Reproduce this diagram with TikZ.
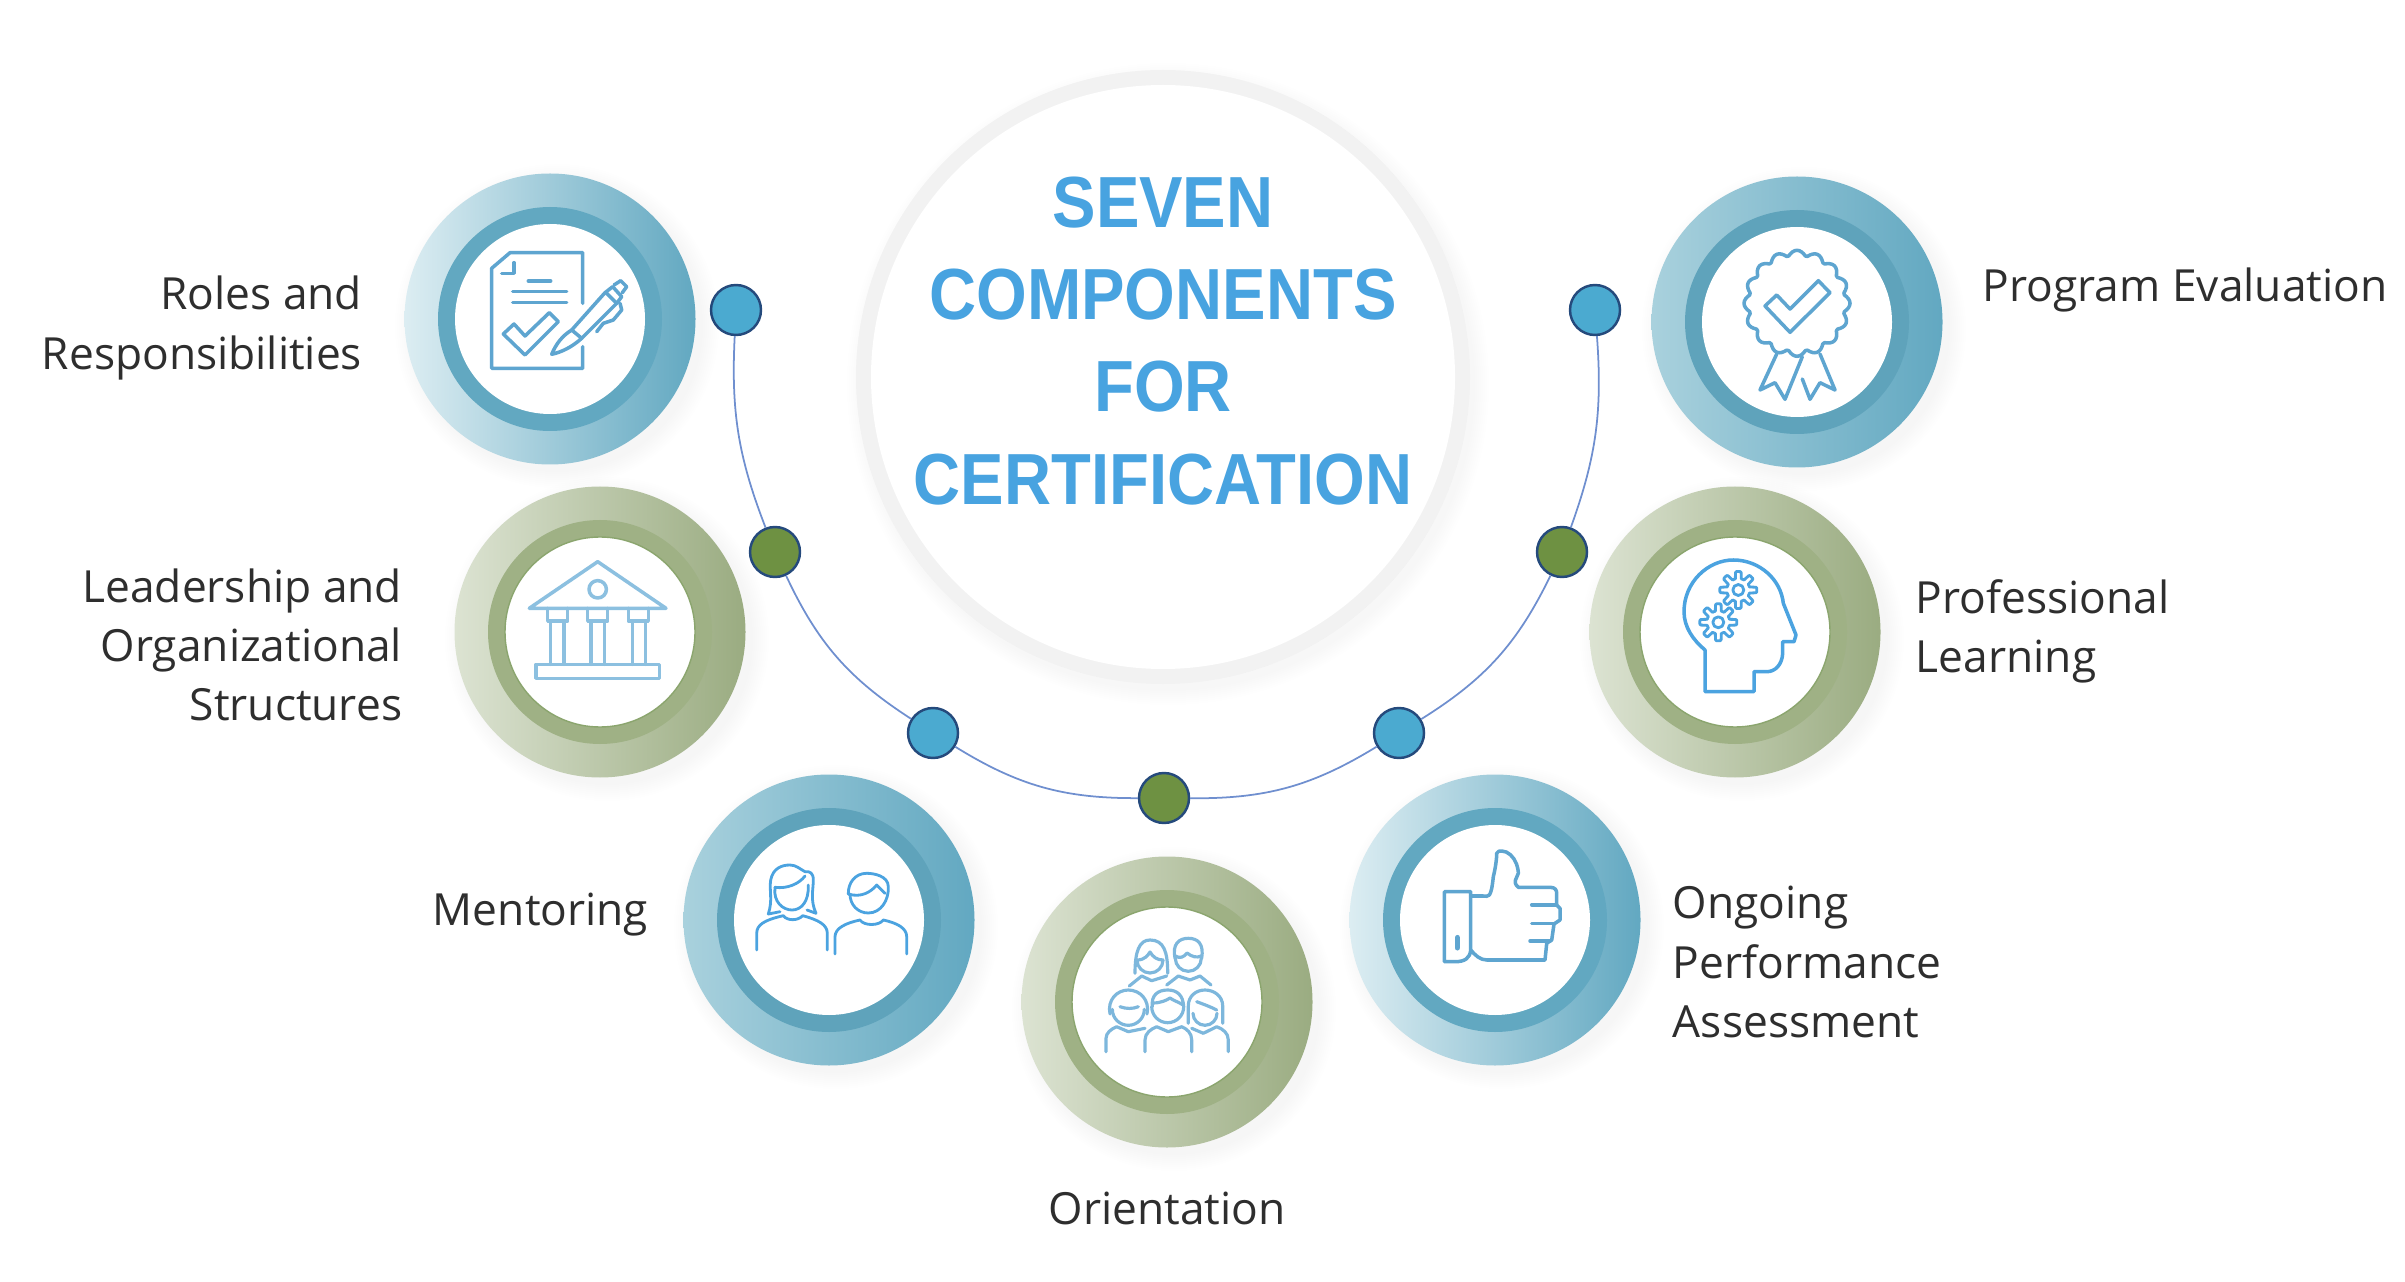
\documentclass[tikz,border=0pt]{standalone}
\usepackage{fontspec}
\setmainfont{Open Sans}
\newfontfamily\titlefont[FakeStretch=0.9]{Liberation Sans}
\usetikzlibrary{positioning}
\definecolor{titleblue}{HTML}{48A3E0}
\definecolor{labelgray}{HTML}{2E2E2E}
\definecolor{ringedge}{HTML}{F2F2F2}
\definecolor{dotblue}{HTML}{4BAAD0}
\definecolor{dotgreen}{HTML}{6E9142}
\definecolor{dotline}{HTML}{254A7C}
\definecolor{arcline}{HTML}{6F8FCF}
\definecolor{midblue}{HTML}{62A8C1}
\definecolor{midgreen}{HTML}{9FB185}
\definecolor{hubgreen}{HTML}{6E8F4A}
\definecolor{ringtint}{HTML}{DCEDF2}
\definecolor{ringmid}{HTML}{A9D1DD}
\definecolor{greentint}{HTML}{DCE3D2}
\definecolor{iconA}{HTML}{5EA5D0}
\definecolor{iconB}{HTML}{8CC0E0}
\definecolor{iconC}{HTML}{4BA3E0}
\definecolor{iconD}{HTML}{7DB7DC}

\newcommand{\ringunit}[5]{%
    \foreach \rad in {1.46,1.48,...,1.62}{
        \fill[black, opacity=.005] ([shift={(.07,-.07)}]#2) circle (\rad);
    }
    \node[#3] (#1) at (#2) {};
    \node[#4] (#1mid) at (#1) {};
    \node[#5] (#1hub) at (#1) {};
}
\newcommand{\gearicon}[2]{%
    \draw[icon, line width=.8pt] plot[domain=0:360, samples=121]
        ([shift={(#1,#2)}]\x:{.15+.035*max(min(2.5*cos(8*\x),1),-1)}) -- cycle;
    \draw[icon, line width=.8pt] (#1,#2) circle (.055);
}

\begin{document}
\begin{tikzpicture}[
    disc/.style={circle, inner sep=0pt, minimum size=2.91cm},
    discblue/.style={disc, left color=#1, right color=midblue},
    discgreen/.style={disc, left color=#1, right color=midgreen!97!black},
    midring/.style={circle, inner sep=0pt, minimum size=2.24cm, fill=#1},
    hub/.style={circle, inner sep=0pt, minimum size=1.90cm, fill=white},
    hubline/.style={hub, draw=hubgreen!80, line width=.4pt},
    dot/.style={circle, inner sep=0pt, minimum size=.50cm, draw=dotline, line width=.7pt, fill=#1},
    link/.style={draw=arcline, line width=.5pt},
    label/.style={font=\fontsize{12.6}{16.8}\selectfont, text=labelgray, inner sep=0pt},
    icon/.style={draw=iconA, line width=1pt, line join=round, line cap=round}
]
    \useasboundingbox (0,0) rectangle (24.05,12.81);

    \foreach \rad in {3.07,3.09,...,3.21}{
        \fill[black, opacity=.005] ([shift={(.05,-.07)}]11.63,9.04) circle (\rad);
    }
    \node[circle, inner sep=0pt, minimum size=6.14cm, fill=ringedge] (core) at (11.63,9.04) {};
    \node[circle, inner sep=0pt, minimum size=5.84cm, fill=white] (corein) at (core) {};
    \node[font=\titlefont\bfseries\fontsize{20.6}{26.2}\selectfont, text=titleblue, align=center, inner sep=0pt] (title) at (11.63,9.40)
        {SEVEN\\COMPONENTS\\FOR\\CERTIFICATION};

    \node[dot=dotblue] (d1) at (7.36,9.71) {};
    \node[dot=dotgreen] (d2) at (7.75,7.29) {};
    \node[dot=dotblue] (d3) at (9.33,5.48) {};
    \node[dot=dotgreen] (d4) at (11.64,4.83) {};
    \node[dot=dotblue] (d5) at (13.99,5.48) {};
    \node[dot=dotgreen] (d6) at (15.62,7.29) {};
    \node[dot=dotblue] (d7) at (15.95,9.71) {};
    \foreach \a/\b/\turn in {d1/d2/12, d2/d3/16, d3/d4/16, d4/d5/16, d5/d6/16, d6/d7/12}{
        \draw[link] (\a) to[bend right=\turn] (\b);
    }

    \ringunit{roles}{5.50,9.62}{discblue=ringtint}{midring=midblue}{hub}
    \ringunit{program}{17.97,9.59}{discblue=ringmid}{midring=midblue!97!black}{hub}
    \ringunit{leader}{6.00,6.49}{discgreen=greentint}{midring=midgreen}{hubline}
    \ringunit{learning}{17.35,6.49}{discgreen=greentint}{midring=midgreen}{hubline}
    \ringunit{mentor}{8.29,3.61}{discblue=ringmid}{midring=midblue!97!black}{hub}
    \ringunit{orient}{11.67,2.79}{discgreen=greentint}{midring=midgreen}{hubline}
    \ringunit{ongoing}{14.95,3.61}{discblue=ringtint}{midring=midblue}{hub}

    \node[label, align=right, left=0.41cm of roles, yshift=-0.09cm] (roleslabel) {Roles and\\Responsibilities};
    \node[label, align=right, left=0.51cm of leader, yshift=-0.13cm] (leaderlabel) {Leadership and\\Organizational\\Structures};
    \node[label, align=right, left=0.34cm of mentor, yshift=0.05cm] (mentorlabel) {Mentoring};
    \node[label, below=0.43cm of orient] (orientlabel) {Orientation};
    \node[label, align=left, right=0.31cm of ongoing, yshift=-0.42cm] (ongoinglabel) {Ongoing\\Performance\\Assessment};
    \node[label, align=left, right=0.34cm of learning, yshift=0.01cm] (learninglabel) {Professional\\Learning};
    \node[label, align=left, right=0.39cm of program, yshift=0.32cm] (programlabel) {Program Evaluation};

    \begin{scope}[shift={(roles)}]
        \draw[icon] (.327,.157) -- (.327,.663) -- (-.4,.663) -- (-.583,.507) -- (-.583,-.493) -- (.327,-.493) -- (.327,-.277);
        \draw[icon] (-.483,.457) -- (-.36,.457) -- (-.36,.563);
        \draw[icon] (-.217,.38) -- (.007,.38) (-.373,.273) -- (.167,.273) (-.373,.163) -- (.167,.163);
        \draw[icon] (-.467,-.15) -- (-.36,-.05) -- (-.25,-.17) -- (-.007,.063) -- (.083,-.027) -- (-.25,-.36) -- cycle;
        \draw[icon] (.017,-.353) .. controls (.06,-.25) and (.12,-.17) .. (.217,-.11) -- (.55,.263) -- (.627,.323) -- (.717,.223) -- (.667,.157) -- (.317,-.193) .. controls (.22,-.28) and (.12,-.33) .. (.017,-.353) -- cycle;
        \draw[icon] (.217,-.11) -- (.317,-.193) (.567,.257) -- (.667,.157);
        \draw[icon] (.64,.34) -- (.707,.383) -- (.767,.323) -- (.723,.263);
        \draw[icon] (.7,.157) -- (.717,.09) -- (.633,-.01) -- (.533,-.043) -- (.467,-.127);
    \end{scope}

    \begin{scope}[shift={(program)}]
        \draw[icon] plot[domain=0:360, samples=145] ([shift={(0,.187)}]\x:{.47+.06*abs(cos(8*\x))}) -- cycle;
        \draw[icon] (-.32,.16) -- (-.203,.27) -- (-.07,.13) -- (.213,.413) -- (.33,.293) -- (-.07,-.103) -- cycle;
        \draw[icon] (-.203,-.32) -- (-.37,-.68) -- (-.22,-.607) -- (-.12,-.773) -- (.053,-.347);
        \draw[icon] (.23,-.32) -- (.38,-.68) -- (.23,-.607) -- (.13,-.773) -- (.053,-.57);
    \end{scope}

    \begin{scope}[shift={(leader)}, icon/.append style={draw=iconB}]
        \draw[icon] (-.707,.237) -- (-.023,.703) -- (.66,.237) -- cycle;
        \draw[icon] (-.023,.427) circle (.087);
        \foreach \capx/\colx in {-.523/-.493, -.123/-.09, .283/.323}{
            \draw[icon] (\capx,.237) -- (\capx,.11) -- ++(.2,0) -- ++(0,.127);
            \draw[icon] (\colx,.11) -- (\colx,-.323) (\colx+.133,.11) -- (\colx+.133,-.323);
        }
        \draw[icon] (-.64,-.323) rectangle (.593,-.463);
    \end{scope}

    \begin{scope}[shift={(learning)}, icon/.append style={draw=iconC}]
        \draw[icon] (-.3,-.597) -- (-.3,-.18) .. controls (-.42,-.08) and (-.51,.05) .. (-.51,.203)
            .. controls (-.51,.5) and (-.27,.72) .. (-.017,.72) .. controls (.25,.72) and (.46,.52) .. (.483,.287)
            -- (.61,-.03) -- (.59,-.097) -- (.477,-.097) -- (.477,-.213) .. controls (.47,-.33) and (.4,-.397) .. (.317,-.397)
            -- (.19,-.397) -- (.19,-.597) -- cycle;
        \gearicon{.033}{.42}
        \gearicon{-.167}{.097}
    \end{scope}

    \begin{scope}[shift={(mentor)}, icon/.append style={draw=iconC, line width=.8pt}]
        \draw[icon] (-.723,-.3) -- (-.723,-.133) .. controls (-.723,-.05) and (-.65,0) .. (-.457,.043) .. controls (-.42,-.01) and (-.31,-.01) .. (-.263,.043) .. controls (-.1,0) and (-.017,-.05) .. (-.017,-.133) -- (-.017,-.3);
        \draw[icon] (-.607,.06) .. controls (-.56,.2) and (-.6,.3) .. (-.583,.4) .. controls (-.56,.52) and (-.47,.55) .. (-.39,.55) .. controls (-.33,.55) and (-.29,.51) .. (-.24,.483) .. controls (-.19,.49) and (-.157,.47) .. (-.157,.4) .. controls (-.157,.3) and (-.19,.2) .. (-.13,.067) -- (-.22,.1);
        \draw[icon] (-.607,.06) -- (-.49,.083);
        \draw[icon] (-.54,.327) .. controls (-.42,.31) and (-.3,.36) .. (-.24,.44);
        \draw[icon] (-.54,.327) .. controls (-.56,.18) and (-.46,.1) .. (-.37,.1) .. controls (-.28,.1) and (-.2,.18) .. (-.207,.35);
        \draw[icon] (.06,-.34) -- (.06,-.167) .. controls (.06,-.08) and (.17,-.03) .. (.31,0) .. controls (.35,-.06) and (.5,-.06) .. (.543,0) .. controls (.68,-.03) and (.777,-.08) .. (.777,-.167) -- (.777,-.34);
        \draw[icon] (.193,.26) .. controls (.19,.37) and (.26,.467) .. (.377,.467) .. controls (.45,.467) and (.593,.44) .. (.593,.333) .. controls (.6,.2) and (.52,.07) .. (.393,.07) .. controls (.29,.07) and (.21,.15) .. (.21,.26);
        \draw[icon] (.193,.26) .. controls (.32,.22) and (.42,.28) .. (.477,.35) -- (.56,.267);
    \end{scope}

    \begin{scope}[shift={(orient)}, icon/.append style={draw=iconD, line width=.9pt}]
        \foreach \hx/\hy/\hr in {-.17/.42/.13, .213/.437/.13, -.387/-.073/.16, .007/-.047/.16, .38/-.113/.12}{
            \draw[icon] ([shift={(\hx,\hy)}]0:\hr) arc[start angle=0, end angle=-180, radius=\hr];
        }
        \draw[icon] (-.32,.287) .. controls (-.32,.5) and (-.28,.62) .. (-.17,.62) .. controls (-.03,.62) and (.007,.5) .. (.007,.287);
        \draw[icon] (-.3,.42) .. controls (-.22,.42) and (-.19,.47) .. (-.17,.5) .. controls (-.14,.45) and (-.1,.42) .. (-.04,.42);
        \draw[icon] (.08,.437) .. controls (.05,.58) and (.12,.637) .. (.213,.637) .. controls (.31,.637) and (.37,.58) .. (.347,.437);
        \draw[icon] (.083,.46) .. controls (.13,.43) and (.17,.45) .. (.2,.49) .. controls (.25,.45) and (.3,.44) .. (.343,.46);
        \draw[icon] (-.377,.16) -- (-.253,.26) -- (-.153,.213) -- (-.003,.26);
        \draw[icon] (-.003,.17) -- (.113,.26) -- (.23,.22) -- (.33,.26) -- (.44,.17);
        \draw[icon] (-.57,-.12) .. controls (-.6,.02) and (-.5,.12) .. (-.387,.12) .. controls (-.27,.12) and (-.17,.02) .. (-.2,-.12);
        \draw[icon] (-.47,-.047) .. controls (-.41,-.07) and (-.34,-.07) .. (-.287,-.047);
        \draw[icon] (-.147,-.047) .. controls (-.16,.07) and (-.09,.12) .. (.007,.12) .. controls (.1,.12) and (.16,.07) .. (.167,-.047);
        \draw[icon] (-.14,-.01) .. controls (-.06,-.01) and (0,.02) .. (.03,.04) .. controls (.07,.01) and (.12,0) .. (.16,-.03);
        \draw[icon] (.213,-.213) -- (.213,-.04) .. controls (.213,.06) and (.29,.12) .. (.38,.12) .. controls (.47,.12) and (.557,.06) .. (.557,-.04) -- (.557,-.213);
        \draw[icon] (.297,.003) .. controls (.36,-.02) and (.44,-.05) .. (.497,-.08);
        \draw[icon] (-.61,-.497) -- (-.61,-.363) .. controls (-.61,-.31) and (-.56,-.27) .. (-.503,-.247) -- (-.387,-.297) -- (-.22,-.263);
        \draw[icon] (-.22,-.497) -- (-.22,-.38) .. controls (-.22,-.31) and (-.16,-.27) .. (-.103,-.247) -- (.013,-.297) -- (.147,-.247) .. controls (.2,-.27) and (.247,-.31) .. (.247,-.38) -- (.247,-.497);
        \draw[icon] (.247,-.263) -- (.363,-.313) -- (.497,-.247) .. controls (.56,-.27) and (.613,-.31) .. (.613,-.38) -- (.613,-.497);
    \end{scope}

    \begin{scope}[shift={(ongoing)}]
        \draw[icon] (-.507,.283) -- (-.243,.283) -- (-.243,-.3) .. controls (-.25,-.38) and (-.3,-.417) .. (-.4,-.417) -- (-.507,-.417) -- cycle;
        \draw[icon, line width=1.6pt] (-.377,-.177) -- (-.377,-.277);
        \draw[icon] (-.243,.24) -- (-.117,.24) .. controls (-.07,.24) and (-.04,.2) .. (-.017,.433) .. controls (0,.5) and (.017,.6) .. (.017,.667) .. controls (.02,.69) and (.05,.69) .. (.067,.69) .. controls (.13,.69) and (.19,.63) .. (.215,.56) .. controls (.235,.5) and (.233,.467) .. (.233,.467) .. controls (.22,.42) and (.17,.38) .. (.233,.327) -- (.55,.327) .. controls (.6,.327) and (.617,.3) .. (.617,.267) -- (.617,.15) -- (.65,.117) -- (.65,0) -- (.59,-.04) -- (.567,-.2) -- (.517,-.233) -- (.5,-.4) -- (-.083,-.4) .. controls (-.15,-.4) and (-.2,-.35) .. (-.243,-.3);
        \draw[icon] (.367,.15) -- (.617,.15) (.367,-.033) -- (.59,-.033) (.35,-.21) -- (.55,-.21);
    \end{scope}
\end{tikzpicture}
\end{document}
